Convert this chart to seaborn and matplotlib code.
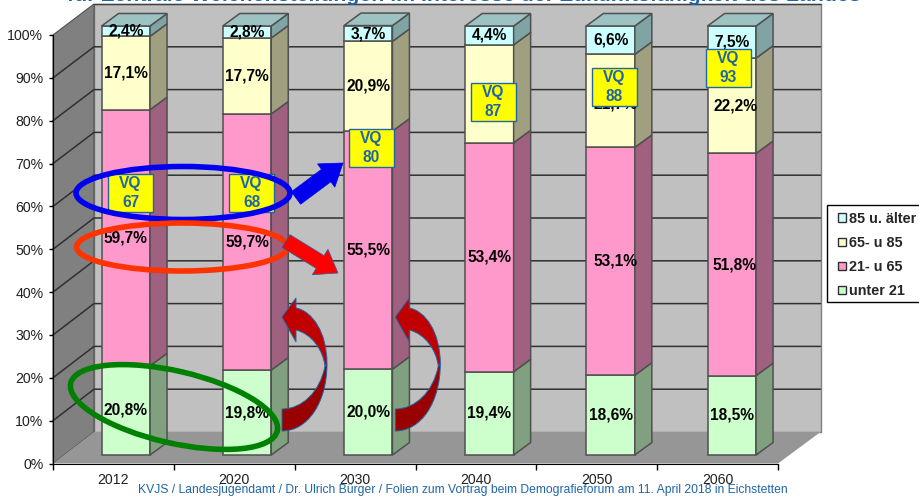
import numpy as np
import pandas as pd
import matplotlib
matplotlib.use("Agg")
import matplotlib.pyplot as plt
import seaborn as sns
from matplotlib.patches import Ellipse, FancyArrow, Patch, PathPatch, Polygon, Rectangle
from matplotlib.path import Path

# Data
years = ["2012", "2020", "2030", "2040", "2050", "2060"]
unter_21 = [20.8, 19.8, 20.0, 19.4, 18.6, 18.5]
von_21 = [59.7, 59.7, 55.5, 53.4, 53.1, 51.8]
von_65 = [17.1, 17.7, 20.9, 22.8, 21.7, 22.2]
ab_85 = [2.4, 2.8, 3.7, 4.4, 6.6, 7.5]
series_names = ["unter 21", "21- u 65", "65- u 85", "85 u. älter"]
vq_values = [67, 68, 80, 87, 88, 93]
y_ticks = [0, 10, 20, 30, 40, 50, 60, 70, 80, 90, 100]
title_text = "für Zentrale Weichenstellungen im Interesse der Zukunftsfähigkeit des Landes"
footer_text = "KVJS / Landesjugendamt / Dr. Ulrich Bürger / Folien zum Vortrag beim Demografieforum am 11. April 2018 in Eichstetten"

# Colours per series: front, side
front_colors = ["#CCFFCC", "#FF99CC", "#FFFFCC", "#CCFFFF"]
side_colors = ["#80A080", "#A06080", "#A0A080", "#80A4A4"]
top_color = "#9CC2C2"
edge_dark = "#505050"
blue_text = "#1F66A8"

W, H = 919, 499
sns.set_style("white")
plt.rcParams["font.family"] = ["Liberation Sans", "DejaVu Sans"]

df = pd.DataFrame({"Jahr": years, "unter 21": unter_21, "21- u 65": von_21,
                   "65- u 85": von_65, "85 u. älter": ab_85})

fig = plt.figure(figsize=(W / 100, H / 100), dpi=100)


def px_axes(left, top, right, bottom, **kw):
    return fig.add_axes([left / W, 1 - bottom / H, (right - left) / W, (bottom - top) / H], **kw)


# Pixel axes behind the chart: walls, floor, gridlines
bg = px_axes(0, 0, W, H)
bg.set_xlim(0, W)
bg.set_ylim(H, 0)
bg.axis("off")
bg.add_patch(Polygon([(94, 4), (820.5, 4), (820.5, 432), (94, 432)], fc="#C0C0C0", ec="#808080", lw=1))
bg.add_patch(Polygon([(53, 35), (94, 4), (94, 432), (53, 463.5)], fc="#808080", ec="#505050", lw=0.8))
bg.add_patch(Polygon([(53, 463.5), (94, 432), (820.5, 432), (778, 463.5)], fc="#969696", ec="none"))
bg.plot([94, 820.5], [4, 4], color="#404040", lw=1)
for t in y_ticks[1:-1]:
    y_front = 463.5 - 4.285 * t
    y_back = 432 - 4.28 * t
    bg.plot([53, 94, 820.5], [y_front, y_back, y_back], color="#303030", lw=1.1)

# Axis with the value ticks and the year labels
axis = px_axes(53, 35, 778, 463.5, facecolor="none")
axis.set_xlim(-0.5, 5.5)
axis.set_ylim(0, 100)
axis.set_yticks(y_ticks)
axis.set_yticklabels([f"{t}%" for t in y_ticks], fontsize=10.2, color="#202020")
axis.set_xticks(np.arange(-0.5, 6))
axis.set_xticklabels([])
axis.set_xticks(np.arange(6), labels=years, minor=True, fontsize=10.2, color="#202020")
axis.tick_params(axis="x", which="major", length=4, width=1, color="black", bottom=True)
axis.tick_params(axis="x", which="minor", length=0, pad=6.5)
axis.tick_params(axis="y", length=3, width=1, color="black", left=True, pad=4)
sns.despine(ax=axis, top=True, right=True)
axis.spines["left"].set_color("black")
axis.spines["bottom"].set_color("black")

# Bars on the front plane, drawn with seaborn
ax = px_axes(65.2, 26, 792.4, 455, facecolor="none")
bottom = np.zeros(len(years))
depth_x, depth_y = 17 / 121.2, 12.5 / 4.29
# small hand placed label shifts seen in the reference (bar index, series index)
label_nudge = {(3, 2): (0.04, 0), (4, 1): (0.04, 0), (4, 2): (0.04, -0.8), (5, 1): (0.025, 0), (5, 2): (0.03, 0)}
for k, (name, front, side) in enumerate(zip(series_names, front_colors, side_colors)):
    sns.barplot(data=df, x="Jahr", y=name, bottom=bottom, color=front, saturation=1, width=0.4,
                edgecolor=edge_dark, linewidth=1.1, ax=ax)
    values = df[name].to_numpy()
    for i, (v, b) in enumerate(zip(values, bottom)):
        x1 = i + 0.2
        ax.add_patch(Polygon([(x1, b), (x1 + depth_x, b + depth_y), (x1 + depth_x, b + v + depth_y), (x1, b + v)],
                             fc=side, ec=edge_dark, lw=1.1, clip_on=False))
        nx, ny = label_nudge.get((i, k), (0, 0))
        ax.text(i + nx, b + v / 2 + ny, f"{v:.1f}%".replace(".", ","), ha="center", va="center",
                fontsize=11.2, fontweight="bold", color="black", zorder=5, clip_on=False)
    bottom = bottom + values
for i, top in enumerate(bottom):
    ax.add_patch(Polygon([(i - 0.2, top), (i + 0.2, top), (i + 0.2 + depth_x, top + depth_y), (i - 0.2 + depth_x, top + depth_y)],
                         fc=top_color, ec=edge_dark, lw=1.1, clip_on=False))
ax.set_xlim(-0.5, 5.5)
ax.set_ylim(0, 100)
ax.axis("off")
for p in ax.patches:
    p.set_clip_on(False)

# Overlay in pixels: title, footer, ovals, arrows, VQ boxes, legend
ov = px_axes(0, 0, W, H, facecolor="none")
ov.set_xlim(0, W)
ov.set_ylim(H, 0)
ov.axis("off")
ov.text(464, 1, title_text, ha="center", va="baseline", fontsize=15.3, fontweight="bold", color=blue_text)
ov.text(463, 490.5, footer_text, ha="center", va="center", fontsize=8.75, color=blue_text)

vq_boxes = [(108, 174), (229, 174), (348.5, 128.5), (470.5, 83), (591.5, 68), (705.5, 49)]
for (bx, by), vq in zip(vq_boxes, vq_values):
    ov.add_patch(Rectangle((bx, by), 45, 38, fc="#FFFF00", ec=blue_text, lw=1))
    ov.text(bx + 22.5, by + 9.5, "VQ", ha="center", va="center", fontsize=11.2, fontweight="bold", color=blue_text)
    ov.text(bx + 22.5, by + 28.5, str(vq), ha="center", va="center", fontsize=11.2, fontweight="bold", color=blue_text)

ov.add_patch(Ellipse((183, 193), 214, 53, fc="none", ec="#0000EE", lw=4))
ov.add_patch(Ellipse((182, 247), 211, 48, fc="none", ec="#FF3300", lw=4))
ov.add_patch(Ellipse((174, 407), 212, 72, angle=13, fc="none", ec="#008000", lw=4))

ov.add_patch(FancyArrow(296, 198, 47, -35, width=15.5, head_width=29, head_length=21, length_includes_head=True,
                        fc="#0000EE", ec="#0000EE", lw=0.5))
ov.add_patch(FancyArrow(286, 241, 52, 32, width=15, head_width=30, head_length=21, length_includes_head=True,
                        fc="#FF0000", ec="#1F66A8", lw=0.5))

for shift in [0, 113.3]:
    upper = [(Path.MOVETO, (282, 317)), (Path.LINETO, (296, 298)), (Path.LINETO, (296, 308)),
             (Path.CURVE4, (312, 311)), (Path.CURVE4, (327, 332)), (Path.CURVE4, (327, 364)),
             (Path.LINETO, (325, 366)),
             (Path.CURVE4, (323, 350)), (Path.CURVE4, (312, 334)), (Path.CURVE4, (296, 330)),
             (Path.LINETO, (296, 342)), (Path.CLOSEPOLY, (282, 317))]
    lower = [(Path.MOVETO, (327, 364)), (Path.CURVE4, (327, 402)), (Path.CURVE4, (308, 431)), (Path.CURVE4, (282, 431)),
             (Path.LINETO, (282, 409)), (Path.CURVE4, (302, 409)), (Path.CURVE4, (320, 392)), (Path.CURVE4, (325, 366)),
             (Path.CLOSEPOLY, (327, 364))]
    for shape, fill in [(upper, "#C00000"), (lower, "#990000")]:
        codes = [c for c, _ in shape]
        verts = [(x + shift, y) for _, (x, y) in shape]
        ov.add_patch(PathPatch(Path(verts, codes), fc=fill, ec=blue_text, lw=0.7))

# Legend frame runs past the right edge like in the reference
ov.add_patch(Rectangle((827, 205), 100, 97, fc="white", ec="black", lw=1, clip_on=True))
handles = [Patch(fc=c, ec="#303030", lw=1) for c in front_colors[::-1]]
leg = ov.legend(handles, series_names[::-1], loc="upper left", bbox_to_anchor=(835 / W, 1 - 209 / H),
                bbox_transform=fig.transFigure, frameon=False,
                handlelength=0.55, handleheight=0.55, handletextpad=0.2, labelspacing=0.7, borderaxespad=0,
                borderpad=0.2, prop={"size": 10.4, "weight": "bold"})

fig.savefig("out.png", dpi=100)
